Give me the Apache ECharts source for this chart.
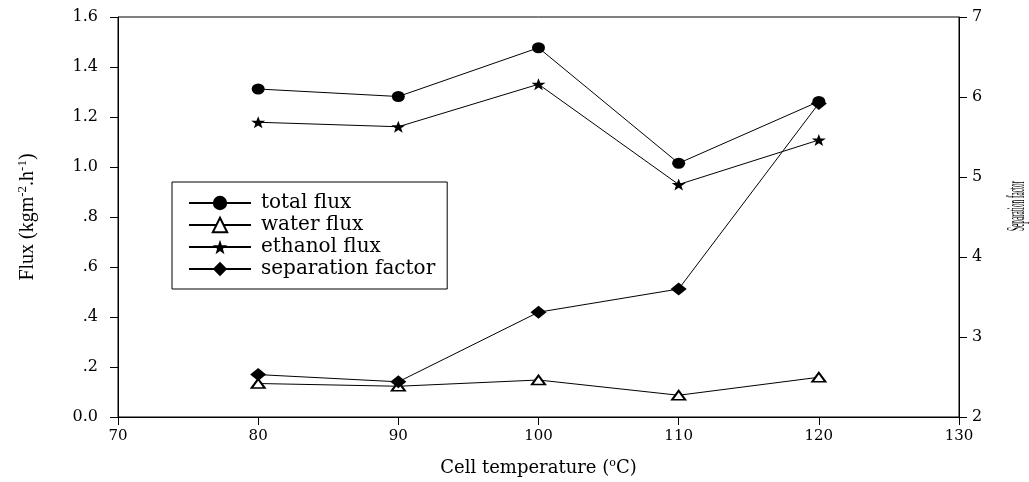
<!DOCTYPE html>
<html>
<head>
<meta charset="utf-8">
<script src="https://cdn.jsdelivr.net/npm/echarts@6/dist/echarts.min.js"></script>
<style>html,body{margin:0;padding:0;background:#fff}#c{width:1029px;height:482px}</style>
</head>
<body>
<div id="c"></div>
<script>
const temperature = [80, 90, 100, 110, 120];
const totalFlux = [1.312, 1.282, 1.477, 1.015, 1.262];
const waterFlux = [0.134, 0.123, 0.148, 0.087, 0.159];
const ethanolFlux = [1.179, 1.161, 1.331, 0.930, 1.108];
const separationFactor = [2.53, 2.44, 3.31, 3.60, 5.92];
const fluxTickLabels = ['0.0', '.2', '.4', '.6', '.8', '1.0', '1.2', '1.4', '1.6'];
const seriesNames = ['total flux', 'water flux', 'ethanol flux', 'separation factor'];

const SERIF = '"Liberation Serif", "DejaVu Serif", serif';
const WIDE = '"DejaVu Serif", serif';
const pts = arr => temperature.map((t, i) => [t, arr[i]]);
const chart = echarts.init(document.getElementById('c'));
const lineStyle = { color: '#000', width: 1 };

chart.setOption({
  animation: false,
  backgroundColor: '#fff',
  grid: { left: 118, right: 70, top: 17, bottom: 65, show: true, borderColor: '#000', borderWidth: 1, backgroundColor: 'transparent' },
  legend: {
    orient: 'vertical', left: 172, top: 182,
    borderColor: '#000', borderWidth: 1, borderRadius: 0,
    padding: [11, 12, 10, 16], itemGap: 2, itemWidth: 62, itemHeight: 18,
    textStyle: { fontFamily: WIDE, fontSize: 20, lineHeight: 18, color: '#000', padding: [0, 0, 0, 5] },
    data: seriesNames
  },
  xAxis: {
    type: 'value', min: 70, max: 130, interval: 10,
    name: 'Cell temperature ({sup|o}C)', nameLocation: 'middle', nameGap: 41,
    nameTextStyle: { fontFamily: WIDE, fontSize: 18, color: '#000', rich: { sup: { fontFamily: WIDE, fontSize: 11, color: '#000', padding: [0, 0, 9, 0] } } },
    axisLine: { onZero: false, lineStyle: { color: '#000', width: 1 } },
    axisTick: { inside: false, length: 8, lineStyle: { color: '#000' } },
    axisLabel: { fontFamily: WIDE, fontSize: 15, color: '#000', margin: 12 },
    splitLine: { show: false }
  },
  yAxis: [{
    type: 'value', min: 0, max: 1.6, interval: 0.2, position: 'left',
    name: 'Flux (kgm{sup|-2}.h{sup|-1})', nameLocation: 'middle', nameGap: 78, nameRotate: 90,
    nameTextStyle: { fontFamily: SERIF, fontSize: 20, color: '#000', rich: { sup: { fontFamily: SERIF, fontSize: 13, color: '#000', padding: [0, 0, 11, 0] } } },
    axisLine: { show: true, lineStyle: { color: '#000', width: 1 } },
    axisTick: { show: true, length: 8, lineStyle: { color: '#000' } },
    axisLabel: { fontFamily: WIDE, fontSize: 16, color: '#000', margin: 20, formatter: v => fluxTickLabels[Math.round(v / 0.2)] },
    splitLine: { show: false }
  }, {
    type: 'value', min: 2, max: 7, interval: 1, position: 'right',
    axisLine: { show: true, lineStyle: { color: '#000', width: 1 } },
    axisTick: { show: true, length: 8, lineStyle: { color: '#000' } },
    axisLabel: { fontFamily: WIDE, fontSize: 16, color: '#000', margin: 13 },
    splitLine: { show: false }
  }],
  graphic: [{
    type: 'text', x: 1017, y: 206, rotation: Math.PI / 2, scaleX: 0.28,
    style: { text: 'Separation factor', fontFamily: SERIF, fontSize: 26, fill: '#000', align: 'center', verticalAlign: 'middle' }
  }],
  series: [{
    name: seriesNames[0], type: 'line', yAxisIndex: 0, data: pts(totalFlux),
    symbol: 'circle', symbolSize: [13, 11], lineStyle, itemStyle: { color: '#000' }
  }, {
    name: seriesNames[1], type: 'line', yAxisIndex: 0, data: pts(waterFlux),
    symbol: 'triangle', symbolSize: [13, 9], lineStyle, itemStyle: { color: '#fff', borderColor: '#000', borderWidth: 2 }
  }, {
    name: seriesNames[2], type: 'line', yAxisIndex: 0, data: pts(ethanolFlux),
    symbol: 'path://M0,-10 L2.35,-3.24 L9.51,-3.09 L3.8,1.24 L5.88,8.09 L0,4 L-5.88,8.09 L-3.8,1.24 L-9.51,-3.09 L-2.35,-3.24 Z',
    symbolSize: [14, 12], lineStyle, itemStyle: { color: '#000' }
  }, {
    name: seriesNames[3], type: 'line', yAxisIndex: 1, data: pts(separationFactor),
    symbol: 'diamond', symbolSize: [16, 13], lineStyle, itemStyle: { color: '#000' }
  }]
});
</script>
</body>
</html>
